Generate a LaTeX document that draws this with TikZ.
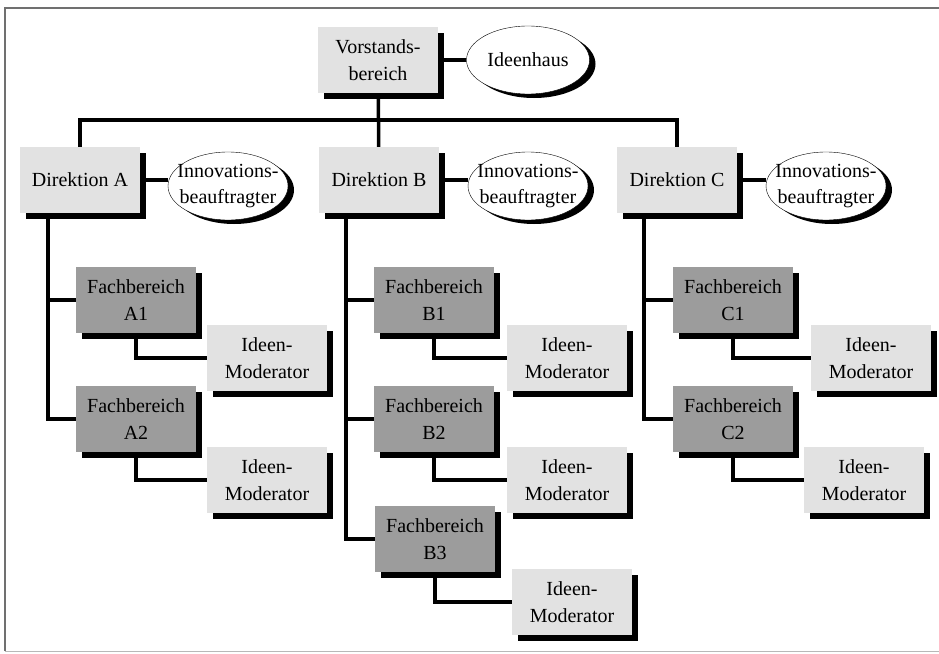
\documentclass[tikz,border=0pt]{standalone}
\usepackage{fontspec}
\setmainfont{Liberation Serif}
\usepackage{xcolor}
\usepackage{tikz}
\usetikzlibrary{shapes.geometric,shadows}
\definecolor{OrgLight}{HTML}{E2E2E2}
\definecolor{OrgDark}{HTML}{9C9C9C}
\definecolor{OrgFrame}{HTML}{707070}
\tikzset{
  orgtext/.style={align=center,font=\fontsize{20}{26.5}\selectfont},
  orgbox/.style={
    orgtext,
    fill=OrgLight,
    inner sep=0pt,
    minimum width=120pt,
    minimum height=66pt,
    drop shadow={shadow xshift=6pt,shadow yshift=-6pt,fill=black,opacity=1}
  },
  unitbox/.style={orgbox,fill=OrgDark},
  rolebox/.style={
    ellipse,
    draw=black,
    thin,
    fill=white,
    inner sep=0pt,
    minimum width=#1,
    minimum height=68pt,
    drop shadow={shadow xshift=6pt,shadow yshift=-4pt,fill=black,opacity=1}
  },
  orgline/.style={line width=3.5pt,draw=black}
}

\begin{document}
\begin{tikzpicture}[x=1pt,y=-1pt]
    \useasboundingbox (0,0) rectangle (939,653);
    \draw[OrgFrame,line width=1.5pt] (5,651) -- (5,8) -- (939,8);
    \draw[OrgFrame!50,line width=1pt] (5,651) -- (939,651);

    % top level
    \node[orgbox] (vor) at (378,60) {Vorstands-\\bereich};
    \node[rolebox=123pt] (ideen) at (528,60) {};
    \node[orgtext] (ideentxt) at (ideen) {Ideenhaus};

    % direktionen
    \node[orgbox] (dirA) at (80,180) {Direktion A};
    \node[orgbox] (dirB) at (379,180) {Direktion B};
    \node[orgbox] (dirC) at (677,180) {Direktion C};
    \node[rolebox=120pt] (innoA) at (228,186) {};
    \node[rolebox=120pt] (innoB) at (528,186) {};
    \node[rolebox=120pt] (innoC) at (826,186) {};
    \node[orgtext] (innoAtxt) at (innoA) {Innovations-\\beauftragter};
    \node[orgtext] (innoBtxt) at (innoB) {Innovations-\\beauftragter};
    \node[orgtext] (innoCtxt) at (innoC) {Innovations-\\beauftragter};

    % fachbereiche
    \node[unitbox] (faA1) at (136,300) {Fachbereich\\A1};
    \node[unitbox] (faA2) at (136,419) {Fachbereich\\A2};
    \node[unitbox] (faB1) at (434,300) {Fachbereich\\B1};
    \node[unitbox] (faB2) at (434,419) {Fachbereich\\B2};
    \node[unitbox] (faB3) at (435,539) {Fachbereich\\B3};
    \node[unitbox] (faC1) at (733,300) {Fachbereich\\C1};
    \node[unitbox] (faC2) at (733,419) {Fachbereich\\C2};

    % moderatoren
    \node[orgbox] (modA1) at (267,358) {Ideen-\\Moderator};
    \node[orgbox] (modA2) at (267,480) {Ideen-\\Moderator};
    \node[orgbox] (modB1) at (567,358) {Ideen-\\Moderator};
    \node[orgbox] (modB2) at (567,480) {Ideen-\\Moderator};
    \node[orgbox] (modB3) at (572,602) {Ideen-\\Moderator};
    \node[orgbox] (modC1) at (871,358) {Ideen-\\Moderator};
    \node[orgbox] (modC2) at (864,480) {Ideen-\\Moderator};

    \coordinate (bus) at (379,120);
    \draw[orgline] (vor) -- (dirB);
    \draw[orgline] (dirA) |- (bus) -| (dirC);
    \draw[orgline] ([xshift=6pt]vor.east) -- (ideen);
    \draw[orgline] ([xshift=6pt]dirA.east) -- (dirA.east -| innoA.west);
    \draw[orgline] ([xshift=6pt]dirB.east) -- (dirB.east -| innoB.west);
    \draw[orgline] ([xshift=6pt]dirC.east) -- (dirC.east -| innoC.west);

    \draw[orgline] ([xshift=28pt,yshift=-6pt]dirA.south west) |- (faA1)
                   ([xshift=28pt]dirA.south west) |- (faA2);
    \draw[orgline] ([xshift=27pt,yshift=-6pt]dirB.south west) |- (faB1)
                   ([xshift=27pt]dirB.south west) |- (faB2)
                   ([xshift=27pt]dirB.south west) |- (faB3);
    \draw[orgline] ([xshift=27pt,yshift=-6pt]dirC.south west) |- (faC1)
                   ([xshift=27pt]dirC.south west) |- (faC2);

    \draw[orgline] (faA1.south) |- (modA1);
    \draw[orgline] (faA2.south) |- (modA2);
    \draw[orgline] (faB1.south) |- (modB1);
    \draw[orgline] (faB2.south) |- (modB2);
    \draw[orgline] (faB3.south) |- (modB3);
    \draw[orgline] (faC1.south) |- (modC1);
    \draw[orgline] (faC2.south) |- (modC2);
\end{tikzpicture}
\end{document}
